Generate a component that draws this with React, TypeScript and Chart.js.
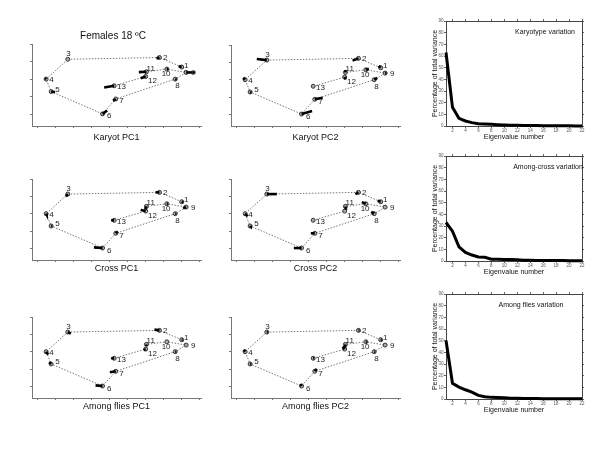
import React, { useEffect, useRef } from "react";
import { Chart, registerables } from "chart.js";

Chart.register(...registerables);

const FONT = "'Liberation Sans', Arial, Helvetica, sans-serif";
Chart.defaults.font.family = FONT;

// ---------------- DATA ----------------
// Landmark consensus configuration (arbitrary shape units)
const landmarkLabels = ["1", "2", "3", "4", "5", "6", "7", "8", "9", "10", "11", "12", "13"];
const landmarkX = [7.03, 5.79, 0.67, -0.54, -0.26, 2.61, 3.35, 6.67, 7.28, 6.2, 5.06, 5.02, 3.26];
const landmarkY = [2.69, 3.23, 3.13, 2.0, 1.29, 0.02, 0.87, 2.0, 2.38, 2.57, 2.42, 2.15, 1.62];
const outlinePath = [3, 2, 1, 9, 8, 7, 6, 5, 4, 3];
const innerPath = [13, 12, 11, 10, 9];
const landmarkXTicks = [-1, 0, 1, 2, 3, 4, 5, 6, 7, 8];
const landmarkYTicks = [0, 1, 2, 3, 4];

const figureTitle = "Females 18 ºC";
const panelTitles = ["Karyot PC1", "Karyot PC2", "Cross PC1", "Cross PC2", "Among flies PC1", "Among flies PC2"];

// PC displacement vectors (dx, dy) per landmark, one pair of arrays per panel
const karyotPC1Dx = [-0.17, -0.17, 0, -0.06, 0.22, 0.26, -0.15, 0.08, 0.52, 0.08, -0.42, -0.28, -0.56];
const karyotPC1Dy = [0.04, -0.06, 0, 0.06, -0.04, 0.19, -0.11, -0.03, 0, 0, -0.02, -0.1, -0.1];
const karyotPC2Dx = [-0.11, -0.33, -0.56, -0.11, 0.06, 0.59, 0.44, 0.17, 0.08, 0.17, 0, 0.06, 0];
const karyotPC2Dy = [0.11, -0.13, 0.06, 0.11, -0.03, 0.17, 0.09, 0.1, 0, 0.06, 0.14, -0.14, 0];
const crossPC1Dx = [0.08, -0.22, -0.11, 0.03, 0.06, -0.48, 0.11, 0.06, -0.17, 0.06, -0.06, -0.28, -0.17];
const crossPC1Dy = [-0.03, 0, -0.14, -0.06, 0, 0.04, 0.11, 0, -0.07, 0, -0.17, 0.06, 0];
const crossPC2Dx = [-0.17, -0.17, 0.56, 0.14, 0.03, -0.43, -0.22, -0.17, 0, -0.22, 0.04, 0, 0];
const crossPC2Dy = [0.06, -0.11, 0, -0.15, -0.03, 0, 0, 0.11, 0, 0.1, -0.19, 0, 0];
const fliesPC1Dx = [0.06, -0.28, 0.17, 0.11, -0.11, -0.39, -0.33, 0.06, 0, 0, 0, -0.11, -0.17];
const fliesPC1Dy = [0, 0.04, -0.09, -0.17, 0.11, 0.04, -0.06, 0, 0, 0, -0.09, -0.06, 0];
const fliesPC2Dx = [0.06, 0.06, 0.06, -0.08, 0.06, -0.06, 0.11, 0.06, 0, 0.06, -0.03, -0.11, 0.06];
const fliesPC2Dy = [0, 0, 0, 0.11, 0, 0.11, 0.14, 0, 0, 0, -0.17, 0.14, 0];

// Scree plots
const eigenvalueNumbers = [1, 2, 3, 4, 5, 6, 7, 8, 9, 10, 11, 12, 13, 14, 15, 16, 17, 18, 19, 20, 21, 22];
const karyotypeVariance = [63, 16, 6.6, 4.3, 2.9, 2.0, 1.7, 1.4, 1.1, 0.9, 0.7, 0.6, 0.5, 0.4, 0.35, 0.3, 0.25, 0.2, 0.15, 0.12, 0.1, 0.08];
const amongCrossVariance = [33, 25.6, 12.2, 7.4, 5.1, 3.4, 3.2, 1.6, 1.4, 1.3, 1.2, 1.1, 0.7, 0.6, 0.5, 0.5, 0.4, 0.4, 0.35, 0.3, 0.3, 0.3];
const amongFliesVariance = [50.2, 13.5, 10.2, 7.9, 5.9, 3.1, 2.0, 1.4, 1.2, 1.0, 0.7, 0.6, 0.5, 0.4, 0.35, 0.3, 0.3, 0.25, 0.2, 0.2, 0.2, 0.2];
const screeTitles = ["Karyotype variation", "Among-cross variation", "Among flies variation"];
const screeXTicks = [2, 4, 6, 8, 10, 12, 14, 16, 18, 20, 22];
const screeYTicks = [0, 10, 20, 30, 40, 50, 60, 70, 80, 90];
const screeYTitle = "Percentage of total variance";
const screeXTitle = "Eigenvalue number";

// ---------------- LAYOUT / STYLE ----------------
const labelOffsets = [
  [4.5, -1.7], [5.7, 0], [0.7, -5.7], [5.3, 0.7], [6.3, -2], [6.7, 2.3], [5.7, 2.3],
  [2.3, 6.7], [7, 0.7], [-0.7, 5], [4.3, -3.3], [6.7, 4.3], [7.3, 1.3],
];
const landmarkCols = [32, 231];
const landmarkRows = [
  { top: 44, bottom: 126, gap: 11.3 },
  { top: 178, bottom: 260, gap: 9 },
  { top: 316, bottom: 398, gap: 9 },
];
const LM_W = 170;
const screeRows = [
  { top: 21, bottom: 126, cx: 0.728 },
  { top: 156, bottom: 261, cx: 0.75 },
  { top: 294, bottom: 399, cx: 0.625 },
];
const SCREE_LEFT = 446;
const SCREE_W = 136;

const landmarkPanels = [
  { title: panelTitles[0], dx: karyotPC1Dx, dy: karyotPC1Dy, col: 0, row: 0 },
  { title: panelTitles[1], dx: karyotPC2Dx, dy: karyotPC2Dy, col: 1, row: 0 },
  { title: panelTitles[2], dx: crossPC1Dx, dy: crossPC1Dy, col: 0, row: 1 },
  { title: panelTitles[3], dx: crossPC2Dx, dy: crossPC2Dy, col: 1, row: 1 },
  { title: panelTitles[4], dx: fliesPC1Dx, dy: fliesPC1Dy, col: 0, row: 2 },
  { title: panelTitles[5], dx: fliesPC2Dx, dy: fliesPC2Dy, col: 1, row: 2 },
];
const screePanels = [
  { title: screeTitles[0], values: karyotypeVariance, row: 0 },
  { title: screeTitles[1], values: amongCrossVariance, row: 1 },
  { title: screeTitles[2], values: amongFliesVariance, row: 2 },
];

const pt = (id: number) => ({ x: landmarkX[id - 1], y: landmarkY[id - 1] });

const landmarkLabelPlugin = {
  id: "landmarkLabels",
  afterDatasetsDraw(chart: any) {
    const { ctx, scales } = chart;
    ctx.save();
    ctx.font = `8px ${FONT}`;
    ctx.fillStyle = "#222";
    ctx.textAlign = "center";
    ctx.textBaseline = "middle";
    landmarkLabels.forEach((t, i) => {
      const px = scales.x.getPixelForValue(landmarkX[i]) + labelOffsets[i][0];
      const py = scales.y.getPixelForValue(landmarkY[i]) + labelOffsets[i][1];
      ctx.fillText(t, px, py);
    });
    ctx.restore();
  },
};

function LandmarkPanel({ p, withTitle }: { p: any; withTitle: boolean }) {
  const ref = useRef<HTMLCanvasElement | null>(null);
  const row = landmarkRows[p.row];
  const areaL = landmarkCols[p.col];
  const areaH = row.bottom - row.top;
  const yW = 8, xH = 24, padR = 4;
  const padTop = withTitle ? 0 : 4;
  const titleBlock = withTitle ? 14 : 0;
  const left = areaL - yW;
  const top = row.top - padTop - titleBlock;
  const width = yW + LM_W + padR;
  const height = padTop + titleBlock + areaH + xH;

  useEffect(() => {
    if (!ref.current) return;
    const vectorSets = landmarkLabels
      .map((_, i) => i)
      .filter((i) => p.dx[i] !== 0 || p.dy[i] !== 0)
      .map((i) => ({
        data: [pt(i + 1), { x: landmarkX[i] + p.dx[i], y: landmarkY[i] + p.dy[i] }],
        showLine: true,
        borderColor: "#000",
        borderWidth: 2.6,
        pointRadius: 0,
        order: 0,
      }));
    const axisCommon = {
      type: "linear",
      border: { display: true, color: "#777", width: 1 },
      grid: { display: true, drawOnChartArea: false, drawTicks: true, tickLength: 2, color: "#777" },
      ticks: { display: false },
    };
    const chart = new Chart(ref.current, {
      type: "scatter",
      data: {
        datasets: [
          ...vectorSets,
          {
            data: landmarkLabels.map((_, i) => pt(i + 1)),
            showLine: false,
            pointRadius: 2,
            pointBackgroundColor: "#aaa",
            pointBorderColor: "#333",
            pointBorderWidth: 1,
            order: 1,
          },
          {
            data: outlinePath.map(pt),
            showLine: true,
            borderColor: "#777",
            borderWidth: 1,
            borderDash: [1.5, 1.5],
            pointRadius: 0,
            order: 2,
          },
          {
            data: innerPath.map(pt),
            showLine: true,
            borderColor: "#777",
            borderWidth: 1,
            borderDash: [1.5, 1.5],
            pointRadius: 0,
            order: 2,
          },
        ] as any,
      },
      options: {
        responsive: false,
        animation: false,
        events: [],
        layout: { padding: { top: padTop, right: padR, left: 0, bottom: 0 } },
        plugins: {
          legend: { display: false },
          tooltip: { enabled: false },
          title: {
            display: withTitle,
            text: figureTitle,
            font: { size: 10, family: FONT, weight: "normal" },
            color: "#111",
            padding: { top: 0, bottom: 2 },
          },
        },
        scales: {
          x: {
            ...axisCommon,
            min: -1.33,
            max: 8.11,
            afterBuildTicks: (s: any) => { s.ticks = landmarkXTicks.map((v) => ({ value: v })); },
            afterFit: (s: any) => { s.height = xH; },
            title: {
              display: true,
              text: p.title,
              font: { size: 9, family: FONT },
              color: "#111",
              padding: { top: 0, bottom: xH - 5.4 - row.gap },
            },
          },
          y: {
            ...axisCommon,
            min: -0.67,
            max: 4,
            afterBuildTicks: (s: any) => { s.ticks = landmarkYTicks.map((v) => ({ value: v })); },
            afterFit: (s: any) => { s.width = yW; },
          },
        },
      } as any,
      plugins: [landmarkLabelPlugin],
    });
    return () => chart.destroy();
  }, []);

  return (
    <canvas
      ref={ref}
      width={width}
      height={height}
      style={{ position: "absolute", left, top, width, height }}
    />
  );
}

function ScreePanel({ s }: { s: any }) {
  const ref = useRef<HTMLCanvasElement | null>(null);
  const row = screeRows[s.row];
  const areaH = row.bottom - row.top;
  const yW = 26, y2W = 2, x2H = 2, xH = 16, padR = 2, padTop = 2;
  const left = SCREE_LEFT - yW;
  const top = row.top - padTop - x2H;
  const width = yW + SCREE_W + y2W + padR;
  const height = padTop + x2H + areaH + xH;

  useEffect(() => {
    if (!ref.current) return;
    const cornerLabel = {
      id: "cornerLabel",
      afterDraw(chart: any) {
        const { ctx, chartArea: a } = chart;
        ctx.save();
        ctx.font = `7px ${FONT}`;
        ctx.fillStyle = "#111";
        ctx.textAlign = "center";
        ctx.textBaseline = "middle";
        ctx.fillText(s.title, a.left + row.cx * (a.right - a.left), a.top + 11.5);
        ctx.restore();
      },
    };
    const grid = { display: true, drawOnChartArea: false, drawTicks: true, tickLength: 2, color: "#666" };
    const border = { display: true, color: "#444", width: 1 };
    const xBase = {
      type: "linear",
      min: 1,
      max: 22,
      afterBuildTicks: (sc: any) => { sc.ticks = screeXTicks.map((v) => ({ value: v })); },
      border,
      grid,
    };
    const yBase = {
      type: "linear",
      min: 0,
      max: 90,
      afterBuildTicks: (sc: any) => { sc.ticks = screeYTicks.map((v) => ({ value: v })); },
      border,
      grid,
    };
    const chart = new Chart(ref.current, {
      type: "line",
      data: {
        datasets: [
          {
            data: eigenvalueNumbers.map((x, i) => ({ x, y: s.values[i] })),
            borderColor: "#000",
            borderWidth: 3,
            pointRadius: 0,
            tension: 0,
            clip: false,
          },
        ] as any,
      },
      options: {
        responsive: false,
        animation: false,
        events: [],
        layout: { padding: { top: padTop, right: padR, left: 0, bottom: 0 } },
        plugins: { legend: { display: false }, tooltip: { enabled: false } },
        scales: {
          x: {
            ...xBase,
            position: "bottom",
            ticks: { display: true, font: { size: 4.5, family: FONT }, color: "#555", padding: 0, maxRotation: 0, autoSkip: false },
            afterFit: (sc: any) => { sc.height = xH; },
            title: {
              display: true,
              text: screeXTitle,
              font: { size: 7, family: FONT },
              color: "#111",
              padding: { top: 0, bottom: 1.1 },
            },
          },
          x2: {
            ...xBase,
            position: "top",
            ticks: { display: false },
            afterFit: (sc: any) => { sc.height = x2H; },
          },
          y: {
            ...yBase,
            position: "left",
            ticks: { display: true, font: { size: 4.5, family: FONT }, color: "#555", padding: 0.5, autoSkip: false },
            afterFit: (sc: any) => { sc.width = yW; },
            title: {
              display: true,
              text: screeYTitle,
              font: { size: 7, family: FONT },
              color: "#111",
              padding: { top: 11, bottom: 0 },
            },
          },
          y2: {
            ...yBase,
            position: "right",
            ticks: { display: false },
            afterFit: (sc: any) => { sc.width = y2W; },
          },
        },
      } as any,
      plugins: [cornerLabel],
    });
    return () => chart.destroy();
  }, []);

  return (
    <canvas
      ref={ref}
      width={width}
      height={height}
      style={{ position: "absolute", left, top, width, height }}
    />
  );
}

export default function App() {
  return (
    <div style={{ position: "fixed", left: 0, top: 0, width: 600, height: 450, background: "#fff", overflow: "hidden" }}>
      {landmarkPanels.map((p, i) => (
        <LandmarkPanel key={"lm" + i} p={p} withTitle={i === 0} />
      ))}
      {screePanels.map((s, i) => (
        <ScreePanel key={"sc" + i} s={s} />
      ))}
    </div>
  );
}
